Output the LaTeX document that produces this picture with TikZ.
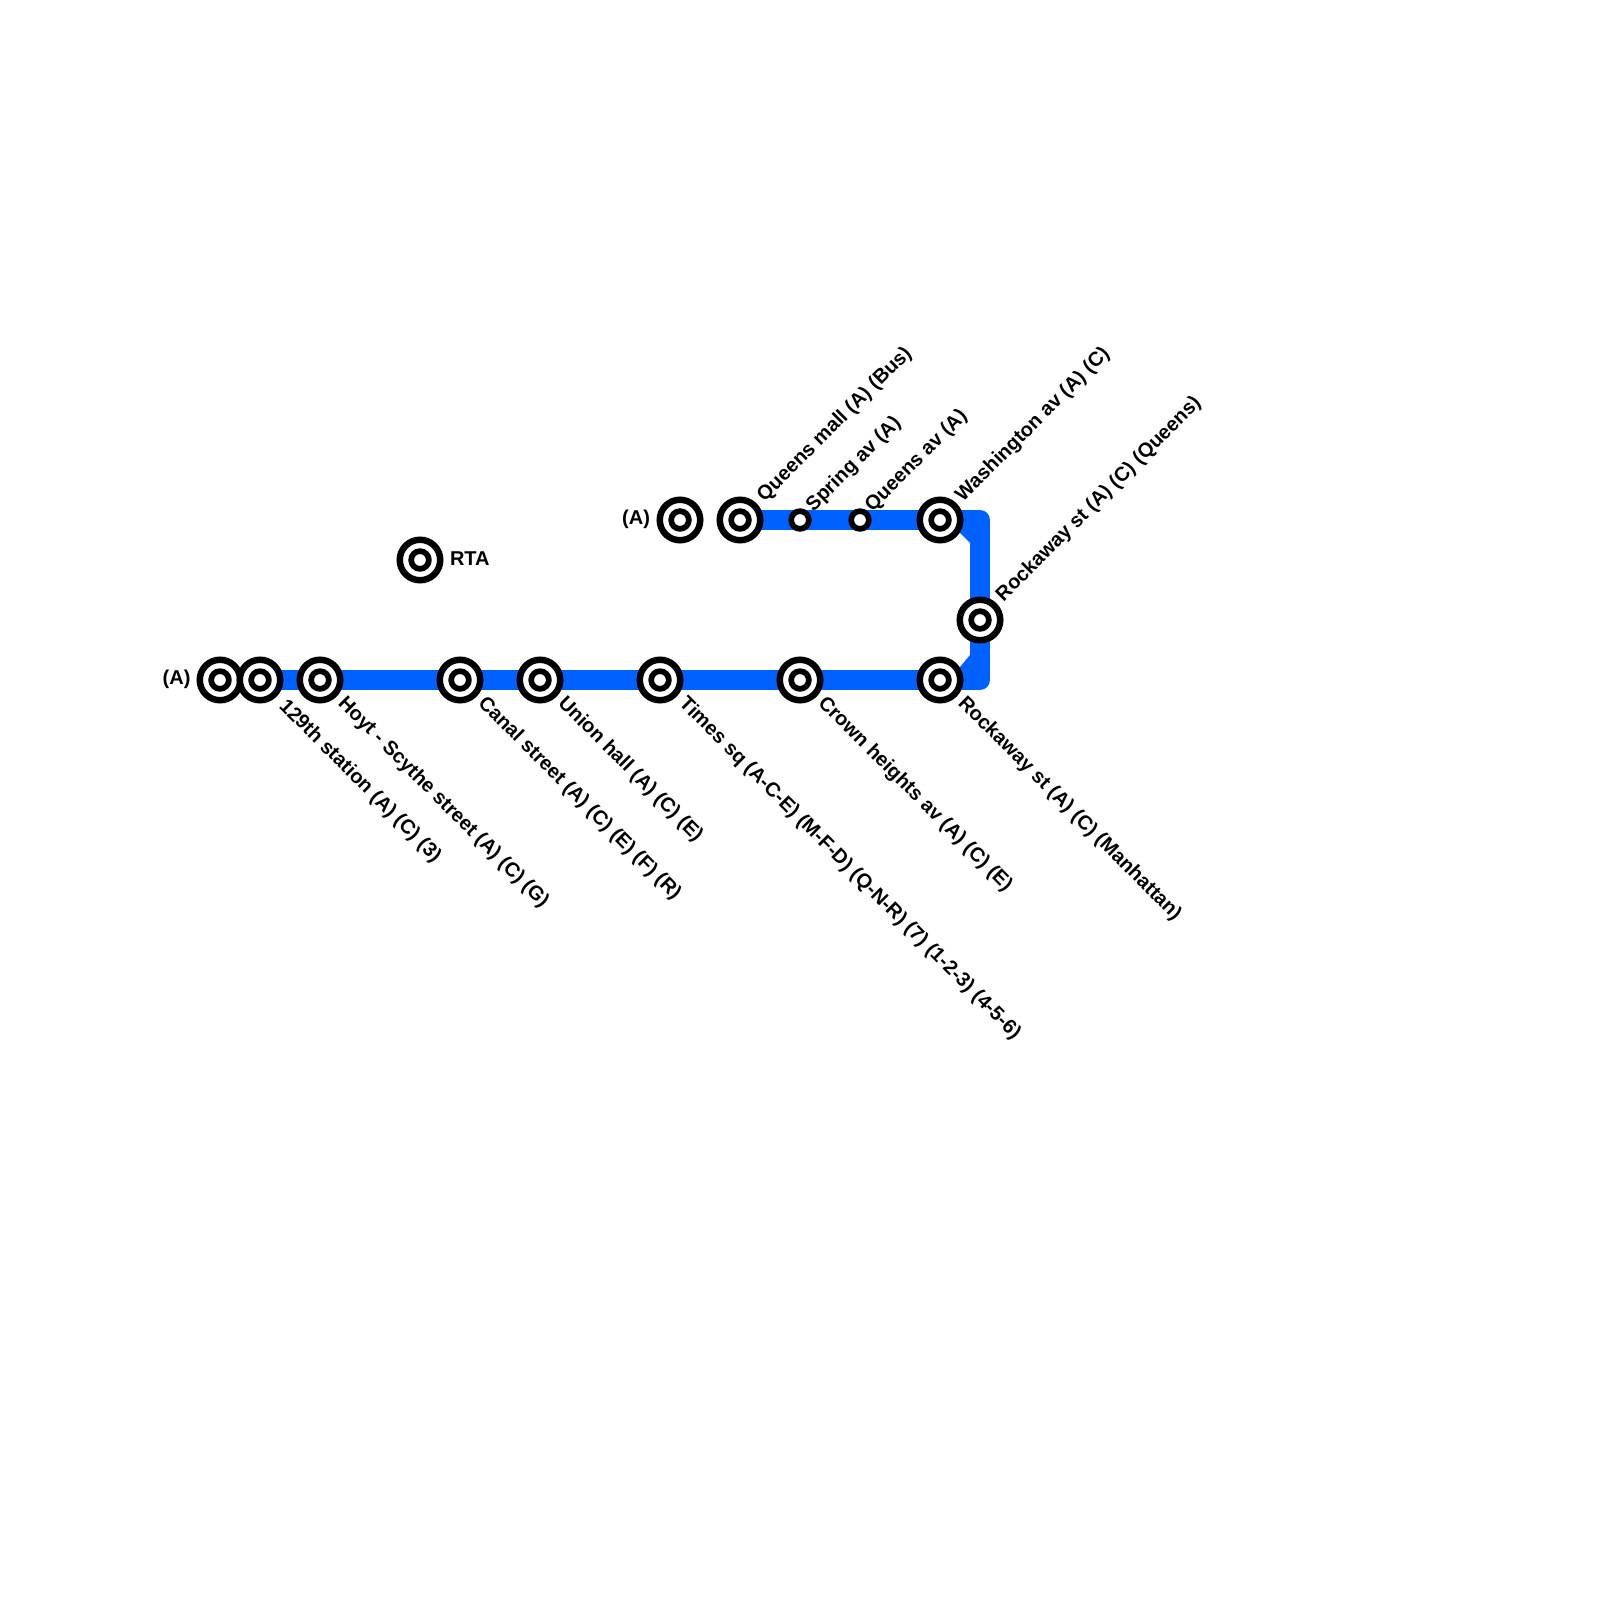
\documentclass[tikz,border=0pt]{standalone}
\usepackage{fontspec}
\setmainfont{Liberation Sans}
\usetikzlibrary{backgrounds}
\tikzset{
  x=0.5pt,y=-0.5pt,
  outerring/.style={circle,draw=black,fill=white,line width=3.25pt,minimum size=20.25pt,inner sep=0pt,outer sep=0pt},
  innerring/.style={circle,draw=black,fill=white,line width=2.85pt,minimum size=8.85pt,inner sep=0pt,outer sep=0pt},
  blueline/.style={draw=lineblue,line width=10pt,line join=round,line cap=butt},
  lbl/.style={font=\bfseries\fontsize{10}{11}\selectfont,text=black,inner sep=0pt,outer sep=0pt},
  up/.style={lbl,rotate=45,anchor=west},
  down/.style={lbl,rotate=-45,anchor=west},
}
\definecolor{lineblue}{HTML}{0061FF}
\newcommand{\bigstation}[3]{\node[outerring] (#1) at (#2,#3) {}; \node[innerring] (#1i) at (#2,#3) {};}
\begin{document}
\begin{tikzpicture}
\useasboundingbox (0,0) rectangle (1600,1600);
\bigstation{a}{220}{680}
\bigstation{b}{260}{680}
\bigstation{c}{320}{680}
\bigstation{d}{460}{680}
\bigstation{e}{540}{680}
\bigstation{f}{660}{680}
\bigstation{g}{800}{680}
\bigstation{h}{940}{680}
\bigstation{i}{980}{620}
\bigstation{j}{940}{520}
\bigstation{k}{740}{520}
\bigstation{l}{680}{520}
\bigstation{m}{420}{560}
\node[innerring] (n) at (800,520) {};
\node[innerring] (o) at (860,520) {};
\coordinate (tr) at (980,520);
\coordinate (br) at (980,680);
\begin{scope}[on background layer]
\draw[blueline] (b.center) -- (h.center) -- (br) -- (i.center) -- (tr) -- (j.center) -- (k.center);
\fill[lineblue] (955,525) -- (960,533) -- (970,543) -- (975,530) -- cycle;
\fill[lineblue] (955,675) -- (960,667) -- (970,655) -- (975,670) -- cycle;
\end{scope}
\node[lbl,anchor=east] (la) at (190.5,679.5) {(A)};
\node[lbl,anchor=east] (ll) at (650,519.5) {(A)};
\node[lbl,anchor=west] (lm) at (450,558.5) {RTA};
\node[down] (lb) at (282,703.5) {129th station (A) (C) (3)};
\node[down] (lc) at (341,700.5) {Hoyt - Scythe street (A) (C) (G)};
\node[down] (ld) at (481,700.5) {Canal street (A) (C) (E) (F) (R)};
\node[down] (le) at (561,700.5) {Union hall (A) (C) (E)};
\node[down] (lf) at (682,701) {Times sq (A-C-E) (M-F-D) (Q-N-R) (7) (1-2-3) (4-5-6)};
\node[down] (lg) at (821,700.5) {Crown heights av (A) (C) (E)};
\node[down] (lh) at (961,700.5) {Rockaway st (A) (C) (Manhattan)};
\node[up] (li) at (1000,598.5) {Rockaway st (A) (C) (Queens)};
\node[up] (lj) at (959.5,498.5) {Washington av (A) (C)};
\node[up] (lk) at (761,498.5) {Queens mall (A) (Bus)};
\node[up] (ln) at (810,508.5) {Spring av (A)};
\node[up] (lo) at (869,508.5) {Queens av (A)};
\end{tikzpicture}
\end{document}
